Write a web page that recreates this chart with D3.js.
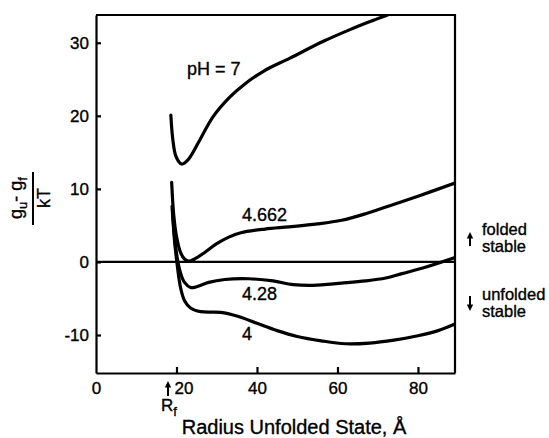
<!DOCTYPE html>
<html>
<head>
<meta charset="utf-8">
<script src="https://cdn.jsdelivr.net/npm/d3@7"></script>
<style>
  body { margin: 0; background: #fff; }
  svg { display: block; font-family: "Liberation Sans", Arial, Helvetica, sans-serif; }
  svg text { stroke: #000; stroke-width: 0.35px; fill: #000; }
  .axis path, .axis line { stroke: #000; stroke-width: 2.2px; }
  .axis text { font-size: 17px; }
  .curve { fill: none; stroke: #000; stroke-width: 3.2px; stroke-linejoin: round; stroke-linecap: round; }
</style>
</head>
<body>
<div id="chart"></div>
<script>
// free energy difference vs radius of the unfolded state, one curve per pH
let radius7 = [18.6, 19.1, 19.9, 21.3, 22.9, 25.8, 29.1, 33.3, 36.6, 41.6, 48.2, 56.5, 63.1, 68.1, 73, 77];
let energy7 = [20.1, 16.7, 14.4, 13.4, 14.0, 16.7, 19.9, 22.6, 24.2, 26.1, 27.9, 30.2, 31.8, 32.9, 33.9, 34.7];

let radius4662 = [18.8, 19.3, 20, 21, 22, 23, 24.5, 27, 30, 33, 36, 42, 48, 55, 61, 67, 73, 80, 89.2];
let energy4662 = [10.9, 6.5, 3.5, 1.3, 0.4, 0.1, 0.4, 1.3, 2.5, 3.4, 4.0, 4.5, 4.8, 5.2, 5.7, 6.6, 7.7, 9.0, 10.8];

let radius428 = [19, 19.5, 20.2, 21, 22, 23.5, 25, 28, 32, 38, 44, 49, 54, 61, 67, 72, 76, 82, 89.2];
let energy428 = [7.3, 3.5, 0.5, -1.5, -2.8, -3.5, -3.4, -2.8, -2.4, -2.3, -2.6, -3.1, -3.2, -2.9, -2.6, -2.2, -1.6, -0.7, 0.6];

let radius4 = [18.9, 19.5, 20.2, 21, 22, 23.5, 26, 31, 35, 40, 45, 50, 56, 62, 68, 74, 80, 85, 89.2];
let energy4 = [7.6, 3, -0.5, -3.5, -5.3, -6.3, -6.8, -6.9, -7.4, -8.4, -9.4, -10.2, -10.8, -11.2, -11.1, -10.7, -10.1, -9.4, -8.5];

let curveLabels = ["pH = 7", "4.662", "4.28", "4"];
let xTicks = [0, 20, 40, 60, 80];
let yTicks = [-10, 0, 10, 20, 30];

let width = 549, height = 438;
let plot = {left: 96, right: 455, top: 15, bottom: 373};

let svg = d3.select("#chart").append("svg")
    .attr("width", width)
    .attr("height", height);

let x = d3.scaleLinear().domain([0, 89.2]).range([plot.left, plot.right]);
let y = d3.scaleLinear().domain([-15.2, 33.8]).range([plot.bottom, plot.top]);

svg.append("clipPath").attr("id", "plotClip")
  .append("rect")
    .attr("x", plot.left).attr("y", plot.top)
    .attr("width", plot.right - plot.left)
    .attr("height", plot.bottom - plot.top);

// frame top and right
svg.append("path")
    .attr("d", "M" + plot.left + "," + plot.top + "H" + plot.right + "V" + plot.bottom)
    .attr("fill", "none")
    .attr("stroke", "#000")
    .attr("stroke-width", 2.2);

// axes, ticks pointing inward, plain hyphen for negatives
let yAxis = svg.append("g")
    .attr("class", "axis")
    .attr("transform", "translate(" + plot.left + ",0)")
    .call(d3.axisLeft(y).tickValues(yTicks).tickFormat(d => String(d))
        .tickSizeInner(-5).tickSizeOuter(0).tickPadding(7));

let xAxis = svg.append("g")
    .attr("class", "axis")
    .attr("transform", "translate(0," + plot.bottom + ")")
    .call(d3.axisBottom(x).tickValues(xTicks).tickFormat(d => String(d))
        .tickSizeInner(-6).tickSizeOuter(0).tickPadding(5));

xAxis.selectAll(".tick text").attr("dy", "0.95em");
// room for the R_f arrow next to 20
xAxis.selectAll(".tick").filter(d => d === 20).select("text").attr("dx", 7);
xAxis.selectAll(".tick").filter(d => d === 0).select("line").remove();

// zero line
svg.append("line")
    .attr("x1", plot.left).attr("x2", plot.right)
    .attr("y1", y(0)).attr("y2", y(0))
    .attr("stroke", "#000")
    .attr("stroke-width", 2.2);

// curves
let line = d3.line()
    .x(d => x(d[0]))
    .y(d => y(d[1]))
    .curve(d3.curveCatmullRom.alpha(0.5));

let series = [
    d3.zip(radius7, energy7),
    d3.zip(radius4662, energy4662),
    d3.zip(radius428, energy428),
    d3.zip(radius4, energy4)
];

svg.append("g")
    .attr("clip-path", "url(#plotClip)")
  .selectAll("path")
  .data(series)
  .enter().append("path")
    .attr("class", "curve")
    .attr("d", line);

// curve labels
let labelPos = [[187, 75], [242, 221], [242, 300], [242, 340]];
svg.selectAll(".curveLabel")
  .data(curveLabels)
  .enter().append("text")
    .attr("class", "curveLabel")
    .attr("x", (d, i) => labelPos[i][0])
    .attr("y", (d, i) => labelPos[i][1])
    .style("font-size", "18px")
    .text(d => d);

// small arrow helper
function arrow(xp, yTail, yTip) {
    let dir = yTip < yTail ? 1 : -1;
    svg.append("line")
        .attr("x1", xp).attr("x2", xp)
        .attr("y1", yTail).attr("y2", yTip + dir * 4)
        .attr("stroke", "#000").attr("stroke-width", 2);
    svg.append("path")
        .attr("d", "M" + xp + "," + yTip + "L" + (xp - 3.2) + "," + (yTip + dir * 6.5) + "L" + (xp + 3.2) + "," + (yTip + dir * 6.5) + "Z")
        .attr("fill", "#000");
}

// stability notes on the right
arrow(470, 246, 232);
arrow(470, 296, 311);
let notes = [["folded", 235], ["stable", 252], ["unfolded", 300], ["stable", 317]];
svg.selectAll(".note")
  .data(notes)
  .enter().append("text")
    .attr("class", "note")
    .attr("x", 482)
    .attr("y", d => d[1])
    .style("font-size", "16.5px")
    .text(d => d[0]);

// R_f marker
arrow(168, 396, 381);
let rf = svg.append("text")
    .attr("x", 161)
    .attr("y", 411)
    .style("font-size", "17px");
rf.append("tspan").text("R");
rf.append("tspan").attr("dy", 5).style("font-size", "13px").text("f");

// x axis title
svg.append("text")
    .attr("x", 294)
    .attr("y", 434)
    .attr("text-anchor", "middle")
    .style("font-size", "20px")
    .text("Radius Unfolded State, Å");

// y axis title as a fraction
let yTitle = svg.append("g")
    .attr("transform", "translate(33,198) rotate(-90)");
yTitle.append("line")
    .attr("x1", -27).attr("x2", 26)
    .attr("stroke", "#000").attr("stroke-width", 2);
let num = yTitle.append("text")
    .attr("y", -11)
    .attr("text-anchor", "middle")
    .style("font-size", "18px");
num.append("tspan").text("g");
num.append("tspan").attr("dy", 5).style("font-size", "13px").text("u");
num.append("tspan").attr("dy", -5).text("- g");
num.append("tspan").attr("dy", 5).style("font-size", "13px").text("f");
yTitle.append("text")
    .attr("y", 17)
    .attr("text-anchor", "middle")
    .style("font-size", "18px")
    .text("kT");
</script>
</body>
</html>
